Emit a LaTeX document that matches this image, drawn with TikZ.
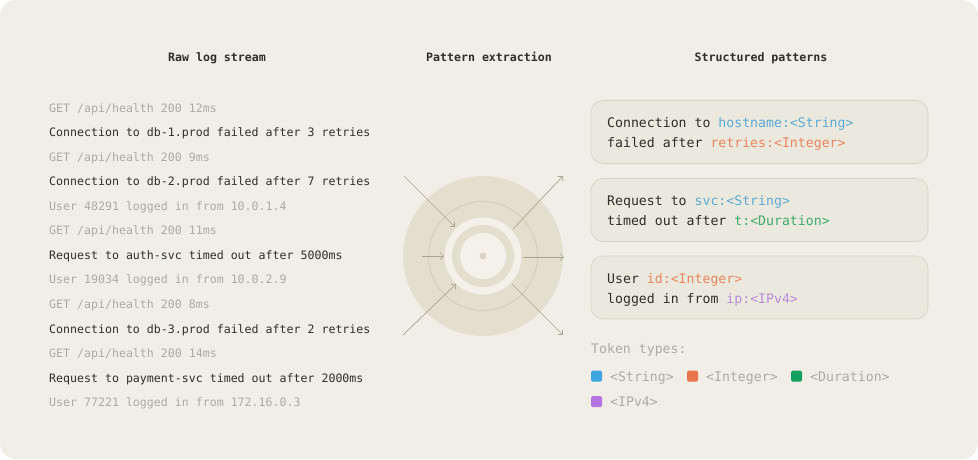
\documentclass[tikz,border=0pt]{standalone}
\usepackage{fontspec}
\setmonofont{DejaVu Sans Mono}
\usepackage{xcolor}
\usepackage{tikz}
\usetikzlibrary{positioning,arrows.meta}
\definecolor{paper}{HTML}{F0EEE6}
\definecolor{ink}{HTML}{2E2E2B}
\definecolor{faint}{HTML}{ABABA5}
\definecolor{disc}{HTML}{E3DFCF}
\definecolor{ringline}{HTML}{CCC6B2}
\definecolor{pale}{HTML}{F3F1E9}
\definecolor{dotcol}{HTML}{DAD5C3}
\definecolor{arrowcol}{HTML}{ABA48E}
\definecolor{boxfill}{HTML}{EBE8DE}
\definecolor{boxline}{HTML}{D7D2C1}
\definecolor{strcol}{HTML}{5AAAD6}
\definecolor{intcol}{HTML}{E8855E}
\definecolor{durcol}{HTML}{3FAA6B}
\definecolor{ipcol}{HTML}{B88BD9}
\definecolor{strsq}{HTML}{3DA5E0}
\definecolor{intsq}{HTML}{E8754B}
\definecolor{dursq}{HTML}{14A05F}
\definecolor{ipsq}{HTML}{B474E0}

\begin{document}
\begin{tikzpicture}[x=1pt,y=-1pt,
		header/.style={anchor=base,inner sep=0,text=ink,font=\ttfamily\bfseries\fontsize{11.6}{14}\selectfont},
		logline/.style={anchor=base west,inner sep=0,font=\ttfamily\fontsize{11.6}{14}\selectfont},
		quiet/.style={logline,text=faint},
		loud/.style={logline,text=ink},
		patbox/.style={draw=boxline,fill=boxfill,line width=0.6pt,rounded corners=12pt,minimum width=337pt,minimum height=63pt,inner sep=0},
		pattext/.style={anchor=base west,inner sep=0,text=ink,font=\ttfamily\fontsize{13.2}{16}\selectfont},
		legtext/.style={anchor=base west,inner sep=0,text=faint,font=\ttfamily\fontsize{13.2}{16}\selectfont},
		chip/.style={rounded corners=1.5pt,minimum size=11pt,inner sep=0},
		flow/.style={-{Straight Barb[length=3.5pt,width=7pt]},arrowcol,line width=0.7pt}]
		\useasboundingbox (0,0) rectangle (978,459);
		\fill[white] (0,0) rectangle (978,459);
		\fill[paper,rounded corners=16pt] (0,0) rectangle (978,459);
		% column titles
		\node[header] (raw) at (217,61) {Raw log stream};
		\node[header] (extract) at (489,61) {Pattern extraction};
		\node[header] (structured) at (761,61) {Structured patterns};
		% raw log lines
		\node[quiet] (l1) at (49,112) {GET /api/health 200 12ms};
		\node[loud] (l2) at (49,136.6) {Connection to db-1.prod failed after 3 retries};
		\node[quiet] (l3) at (49,161.1) {GET /api/health 200 9ms};
		\node[loud] (l4) at (49,185.7) {Connection to db-2.prod failed after 7 retries};
		\node[quiet] (l5) at (49,210.2) {User 48291 logged in from 10.0.1.4};
		\node[quiet] (l6) at (49,234.8) {GET /api/health 200 11ms};
		\node[loud] (l7) at (49,259.4) {Request to auth-svc timed out after 5000ms};
		\node[quiet] (l8) at (49,283.9) {User 19034 logged in from 10.0.2.9};
		\node[quiet] (l9) at (49,308.5) {GET /api/health 200 8ms};
		\node[loud] (l10) at (49,333) {Connection to db-3.prod failed after 2 retries};
		\node[quiet] (l11) at (49,357.6) {GET /api/health 200 14ms};
		\node[loud] (l12) at (49,382.1) {Request to payment-svc timed out after 2000ms};
		\node[quiet] (l13) at (49,406.7) {User 77221 logged in from 172.16.0.3};
		% extraction hub
		\coordinate (hub) at (483,256);
		\fill[disc] (hub) circle (80);
		\draw[ringline,line width=0.6pt] (hub) circle (54.5);
		\fill[pale] (hub) circle (38.5);
		\fill[disc] (hub) circle (31);
		\fill[pale] (hub) circle (23);
		\fill[dotcol] (hub) circle (3.5);
		\coordinate (in1) at (404,176);
		\coordinate (in1e) at (455,227);
		\coordinate (in2) at (422,256);
		\coordinate (in2e) at (444,256);
		\coordinate (in3) at (403,335);
		\coordinate (in3e) at (456,284);
		\coordinate (out1) at (513,229);
		\coordinate (out1e) at (563,176);
		\coordinate (out2) at (523,257);
		\coordinate (out2e) at (564,257);
		\coordinate (out3) at (512,284);
		\coordinate (out3e) at (563,335);
		\draw[flow] (in1) -- (in1e);
		\draw[flow] (in2) -- (in2e);
		\draw[flow] (in3) -- (in3e);
		\draw[flow] (out1) -- (out1e);
		\draw[flow] (out2) -- (out2e);
		\draw[flow] (out3) -- (out3e);
		% structured patterns
		\node[patbox] (box1) at (759.5,132) {};
		\node[patbox] (box2) at (759.5,210) {};
		\node[patbox] (box3) at (759.5,287.5) {};
		\node[pattext] (p1a) at (607,127) {Connection to \textcolor{strcol}{hostname:<String>}};
		\node[pattext] (p1b) at (607,147.3) {failed after \textcolor{intcol}{retries:<Integer>}};
		\node[pattext] (p2a) at (607,205.7) {Request to \textcolor{strcol}{svc:<String>}};
		\node[pattext] (p2b) at (607,225.7) {timed out after \textcolor{durcol}{t:<Duration>}};
		\node[pattext] (p3a) at (607,283.3) {User \textcolor{intcol}{id:<Integer>}};
		\node[pattext] (p3b) at (607,303.3) {logged in from \textcolor{ipcol}{ip:<IPv4>}};
		% legend
		\node[legtext] (tokens) at (591,353.3) {Token types:};
		\node[chip,fill=strsq] (c1) at (596.5,376.2) {};
		\node[legtext] (t1) at (610,381) {<String>};
		\node[chip,fill=intsq] (c2) at (692.5,376.2) {};
		\node[legtext] (t2) at (706,381) {<Integer>};
		\node[chip,fill=dursq] (c3) at (796.5,376.2) {};
		\node[legtext] (t3) at (810,381) {<Duration>};
		\node[chip,fill=ipsq] (c4) at (596.5,401.5) {};
		\node[legtext] (t4) at (610,406) {<IPv4>};
	\end{tikzpicture}
\end{document}
